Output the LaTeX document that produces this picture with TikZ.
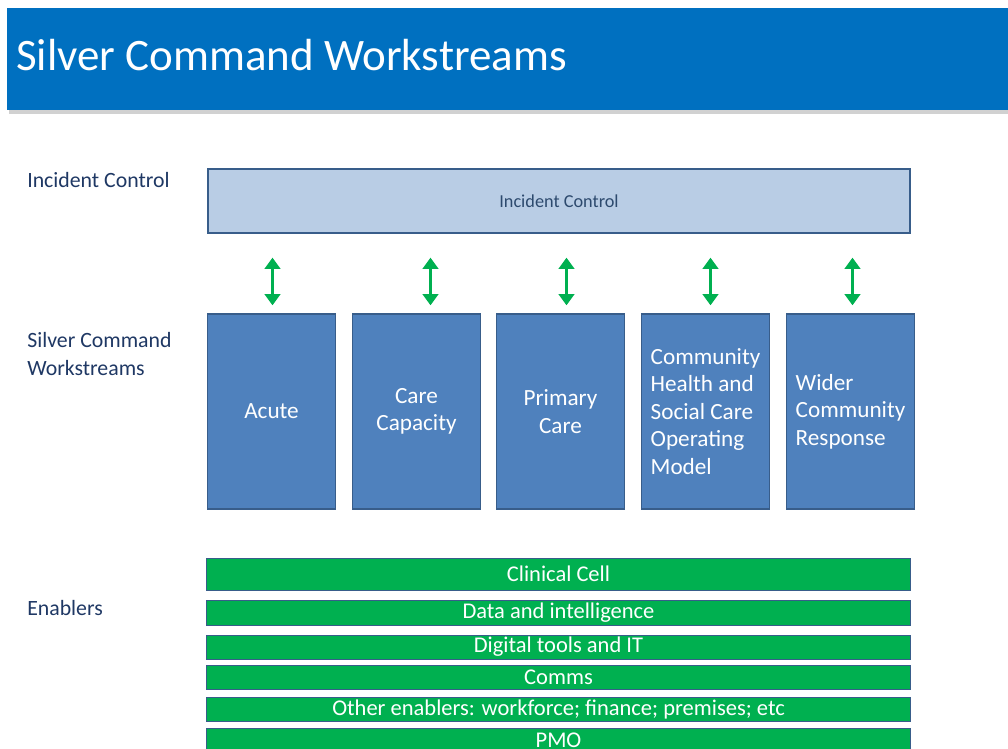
\documentclass[tikz,border=0pt]{standalone}
\usepackage{fontspec}
\setmainfont{Carlito}
\usetikzlibrary{arrows.meta}
\definecolor{titleblue}{HTML}{0070C0}
\definecolor{wsblue}{HTML}{4F81BD}
\definecolor{wsedge}{HTML}{385D8A}
\definecolor{icfill}{HTML}{B9CDE5}
\definecolor{enabgreen}{HTML}{00B050}
\definecolor{labelnavy}{HTML}{1F3864}
\tikzset{
  wsbox/.style={rectangle, draw=wsedge, line width=0.9pt, fill=wsblue, text=white,
    minimum width=3.2cm, minimum height=4.875cm, font=\fontsize{16.5}{19.5}\selectfont},
  enabbar/.style={rectangle, draw=wsedge, line width=0.7pt, fill=enabgreen, text=white,
    minimum width=17.575cm, inner sep=0pt, font=\fontsize{16}{18}\selectfont},
  sidelabel/.style={anchor=west, text=labelnavy, align=left, inner sep=0pt,
    font=\fontsize{15.5}{20}\selectfont},
  twoway/.style={{Triangle[length=8pt,width=11pt]}-{Triangle[length=8pt,width=11pt]},
    draw=enabgreen, line width=2.2pt}
}
\begin{document}
\begin{tikzpicture}[x=0.025cm,y=-0.025cm]
  \useasboundingbox (0,0) rectangle (1008,749);
  \clip (0,0) rectangle (1008,749);
  % title bar
  \fill[black!18] (9,110) rectangle (1008,114);
  \fill[titleblue] (7,8) rectangle (1008,110);
  \node[anchor=west, text=white, inner sep=0pt, font=\fontsize{32}{38}\selectfont] (title) at (16,55) {Silver Command Workstreams};
  % row labels
  \node[sidelabel] (lbl1) at (27,180) {Incident Control};
  \node[sidelabel] (lbl2) at (27,354) {Silver Command\\Workstreams};
  \node[sidelabel] (lbl3) at (27,608) {Enablers};
  % incident control
  \node[rectangle, draw=wsedge, line width=0.9pt, fill=icfill, text=wsedge!80!black,
    minimum width=17.55cm, minimum height=1.6cm, font=\fontsize{13}{15}\selectfont] (ic) at (559,201) {Incident Control};
  % workstreams
  \node[wsbox] (ws1) at (271.5,411.5) {Acute};
  \node[wsbox, align=center] (ws2) at (416.5,411.5) {Care\\Capacity};
  \node[wsbox, align=center] (ws3) at (560.5,411.5) {Primary\\Care};
  \node[wsbox, align=left] (ws4) at (705.5,411.5) {Community\\Health and\\Social Care\\Operating\\Model};
  \node[wsbox, align=left] (ws5) at (850.5,411.5) {Wider\\Community\\Response};
  \foreach \i/\dx in {1/1,2/14,3/6,4/5,5/2}
    \draw[twoway, shorten >=0.6cm, shorten <=0.2cm] ([xshift=\dx*0.025cm]ws\i.north) -- ([xshift=\dx*0.025cm]ws\i.north |- ic.south);
  % enablers
  \node[enabbar, minimum height=0.8cm] (en1) at (558.5,574) {Clinical Cell};
  \node[enabbar, minimum height=0.625cm] (en2) at (558.5,612.5) {Data and intelligence};
  \node[enabbar, minimum height=0.6cm] (en3) at (558.5,647) {Digital tools and IT};
  \node[enabbar, minimum height=0.6cm] (en4) at (558.5,677) {Comms};
  \node[enabbar, minimum height=0.6cm] (en5) at (558.5,709) {Other enablers: workforce; finance; premises; etc};
  \node[enabbar, minimum height=0.6cm, text depth=0pt] (en6) at (558.5,740) {PMO};
\end{tikzpicture}
\end{document}
